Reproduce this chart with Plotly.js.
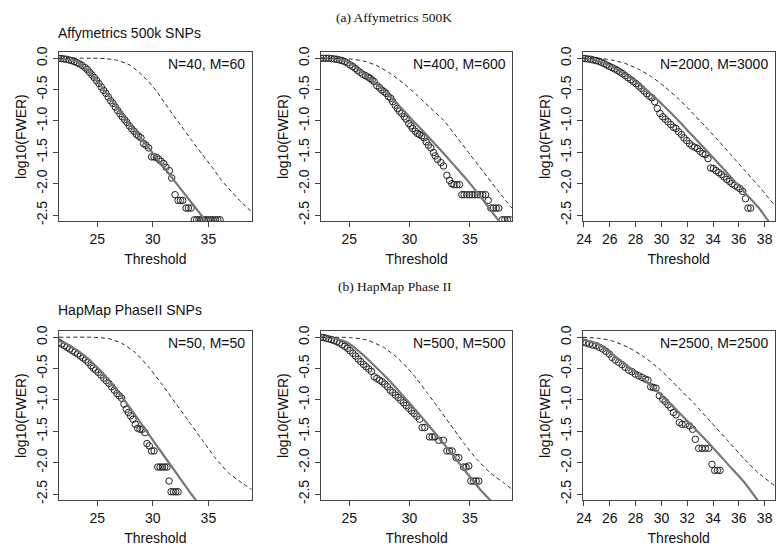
<!DOCTYPE html>
<html><head><meta charset="utf-8">
<script src="https://cdn.plot.ly/plotly-3.0.1.min.js"></script>
<style>html,body{margin:0;padding:0;background:#fff}</style>
</head><body><div id="chart" style="width:776px;height:551px"></div>
<script>
// ---- tick labels ----
const yTickVals = [0, -0.5, -1, -1.5, -2, -2.5];
const yTickText = ["0.0", "-0.5", "-1.0", "-1.5", "-2.0", "-2.5"];
const xTicks5 = [25, 30, 35];
const xTicks2 = [24, 26, 28, 30, 32, 34, 36, 38];

// ---- titles / labels ----
const sectionTitles = ["(a) Affymetrics 500K", "(b) HapMap Phase II"];
const rowTitles = ["Affymetrics 500k SNPs", "HapMap PhaseII SNPs"];
const panelLabels = ["N=40, M=60", "N=400, M=600", "N=2000, M=3000",
                     "N=50, M=50", "N=500, M=500", "N=2500, M=2500"];

// ---- Panel 1: Affymetrics N=40, M=60 ----
const p1_x = [21.49,21.73,21.97,22.21,22.45,22.69,22.93,23.17,23.41,23.65,23.89,24.10,24.31,24.52,24.73,24.94,25.15,25.36,25.57,25.78,25.99,26.20,26.41,26.62,26.83,27.04,27.25,27.46,27.67,27.88,28.09,28.30,28.51,28.72,28.93,29.17,29.38,29.62,29.89,30.11,30.32,30.53,30.74,30.98,31.19,31.49,31.70,32.00,32.27,32.48,32.69,32.99,33.20,33.44,33.74,33.95,34.16,34.37,34.58,34.79,35.00,35.21,35.42,35.63,35.84,36.05];
const p1_y = [0,-0.005,-0.01,-0.016,-0.027,-0.037,-0.053,-0.069,-0.091,-0.117,-0.149,-0.181,-0.224,-0.267,-0.309,-0.357,-0.405,-0.459,-0.512,-0.56,-0.619,-0.677,-0.72,-0.779,-0.832,-0.885,-0.933,-0.981,-1.024,-1.077,-1.125,-1.163,-1.211,-1.243,-1.269,-1.36,-1.387,-1.429,-1.573,-1.573,-1.579,-1.611,-1.643,-1.68,-1.739,-1.792,-1.909,-2.176,-2.267,-2.267,-2.267,-2.389,-2.389,-2.389,-2.576,-2.576,-2.576,-2.576,-2.576,-2.576,-2.576,-2.576,-2.576,-2.576,-2.576,-2.576];
const p1_sx = [21.49,22.99,24.19,25.69,27.19,28.69,30.20,31.70,33.20,34.85];
const p1_sy = [0,-0.043,-0.203,-0.523,-0.885,-1.227,-1.557,-1.899,-2.24,-2.613];
const p1_dx = [21.49,25.0,25.69,26.74,27.94,28.84,29.59,30.35,31.10,31.85,32.60,33.50,34.40,35.30,36.20,37.10,38.00,38.9];
const p1_dy = [0,0,-0.005,-0.03,-0.11,-0.24,-0.37,-0.53,-0.72,-0.91,-1.09,-1.31,-1.52,-1.73,-1.95,-2.13,-2.30,-2.45];

// ---- Panel 2: Affymetrics N=400, M=600 ----
const p2_x = [22.63,22.85,23.07,23.29,23.52,23.74,23.96,24.18,24.40,24.62,24.84,25.06,25.29,25.48,25.67,25.89,26.11,26.34,26.56,26.72,26.89,27.06,27.28,27.50,27.69,27.89,28.05,28.25,28.44,28.60,28.80,28.99,29.16,29.35,29.55,29.71,29.93,30.10,30.26,30.46,30.65,30.82,31.01,31.20,31.37,31.56,31.76,31.98,32.12,32.31,32.59,32.81,33.09,33.31,33.50,33.69,33.92,34.14,34.33,34.52,34.74,34.97,35.19,35.41,35.63,35.85,36.07,36.30,36.52,36.74,36.96,37.18,37.40,37.68,37.90,38.12,38.34];
const p2_y = [0,0,0,0,-0.005,-0.011,-0.016,-0.027,-0.037,-0.053,-0.075,-0.107,-0.133,-0.16,-0.192,-0.224,-0.256,-0.277,-0.299,-0.32,-0.347,-0.373,-0.437,-0.469,-0.507,-0.533,-0.56,-0.613,-0.64,-0.693,-0.747,-0.8,-0.843,-0.88,-0.933,-0.971,-1.04,-1.077,-1.12,-1.163,-1.2,-1.216,-1.237,-1.269,-1.333,-1.387,-1.429,-1.504,-1.557,-1.611,-1.664,-1.717,-1.867,-1.947,-2.0,-2.016,-2.016,-2.016,-2.176,-2.176,-2.176,-2.176,-2.176,-2.176,-2.176,-2.176,-2.176,-2.176,-2.267,-2.389,-2.389,-2.389,-2.389,-2.576,-2.576,-2.576,-2.576];
const p2_sx = [22.63,23.68,24.79,25.89,27.0,28.11,29.21,30.32,31.43,32.53,33.64,34.74,35.80,36.68,37.46];
const p2_sy = [0,-0.005,-0.053,-0.203,-0.373,-0.56,-0.773,-1.003,-1.227,-1.456,-1.696,-1.936,-2.187,-2.411,-2.608];
const p2_dx = [22.63,23.96,25.06,26.17,27.28,28.38,29.49,30.60,31.70,32.81,33.92,35.02,36.13,37.24,38.48];
const p2_dy = [0,0,-0.011,-0.043,-0.117,-0.24,-0.4,-0.587,-0.789,-0.987,-1.259,-1.536,-1.813,-2.091,-2.389];

// ---- Panel 3: Affymetrics N=2000, M=3000 ----
const p3_x = [23.90,24.10,24.31,24.52,24.72,24.93,25.14,25.34,25.55,25.76,25.96,26.17,26.38,26.58,26.79,27.00,27.20,27.41,27.62,27.82,28.03,28.24,28.44,28.65,28.86,29.06,29.27,29.48,29.68,29.89,30.10,30.30,30.51,30.72,30.93,31.13,31.34,31.55,31.75,31.96,32.17,32.37,32.58,32.79,32.99,33.20,33.41,33.61,33.82,34.03,34.23,34.44,34.65,34.85,35.06,35.27,35.47,35.68,35.89,36.09,36.30,36.51,36.71,36.92];
const p3_y = [0,-0.005,-0.011,-0.016,-0.027,-0.037,-0.048,-0.064,-0.085,-0.107,-0.128,-0.149,-0.171,-0.192,-0.219,-0.245,-0.277,-0.309,-0.341,-0.373,-0.405,-0.443,-0.48,-0.523,-0.565,-0.603,-0.629,-0.693,-0.8,-0.88,-0.933,-0.971,-1.013,-1.056,-1.099,-1.12,-1.173,-1.216,-1.269,-1.312,-1.36,-1.397,-1.419,-1.44,-1.483,-1.52,-1.536,-1.6,-1.749,-1.76,-1.792,-1.824,-1.856,-1.893,-1.931,-1.963,-2.0,-2.027,-2.053,-2.08,-2.123,-2.24,-2.389,-2.389];
const p3_sx = [23.90,25.09,26.12,27.15,28.19,29.22,30.25,31.29,32.32,33.35,34.39,35.42,36.45,37.49,38.34];
const p3_sy = [0,-0.043,-0.133,-0.256,-0.4,-0.576,-0.773,-0.987,-1.216,-1.44,-1.669,-1.904,-2.139,-2.373,-2.608];
const p3_dx = [23.90,25.09,26.12,27.15,28.19,29.22,30.25,31.29,32.32,33.35,34.39,35.42,36.45,37.49,38.78];
const p3_dy = [0,0,-0.027,-0.08,-0.171,-0.293,-0.453,-0.64,-0.853,-1.077,-1.307,-1.547,-1.787,-2.027,-2.347];

// ---- Panel 4: HapMap N=50, M=50 ----
const p4_x = [21.55,21.79,22.03,22.27,22.51,22.75,22.99,23.23,23.47,23.71,23.95,24.19,24.43,24.64,24.85,25.09,25.33,25.57,25.81,26.05,26.29,26.53,26.77,26.98,27.19,27.40,27.61,27.79,28.00,28.21,28.42,28.63,28.84,29.05,29.29,29.47,29.68,29.89,30.11,30.44,30.65,30.86,31.07,31.28,31.46,31.64,31.85,32.06,32.27];
const p4_y = [-0.08,-0.107,-0.133,-0.16,-0.187,-0.213,-0.24,-0.267,-0.299,-0.331,-0.363,-0.4,-0.453,-0.491,-0.523,-0.56,-0.603,-0.651,-0.693,-0.736,-0.789,-0.843,-0.896,-0.933,-0.971,-1.067,-1.147,-1.2,-1.253,-1.307,-1.387,-1.451,-1.467,-1.467,-1.52,-1.696,-1.733,-1.813,-1.813,-2.069,-2.069,-2.069,-2.069,-2.069,-2.293,-2.464,-2.464,-2.464,-2.464];
const p4_sx = [21.55,22.69,24.19,25.69,27.19,28.69,30.20,31.70,33.20,33.95];
const p4_sy = [-0.053,-0.149,-0.347,-0.613,-0.944,-1.312,-1.691,-2.064,-2.437,-2.619];
const p4_dx = [21.55,24.49,25.99,27.19,28.39,29.59,30.80,32.0,33.20,34.40,35.60,36.80,38.0,38.9];
const p4_dy = [0,0,-0.021,-0.096,-0.24,-0.469,-0.747,-1.04,-1.333,-1.627,-1.92,-2.16,-2.32,-2.427];

// ---- Panel 5: HapMap N=500, M=500 ----
const p5_x = [22.63,22.85,23.07,23.29,23.52,23.74,23.96,24.18,24.40,24.62,24.84,25.06,25.29,25.51,25.73,25.95,26.17,26.39,26.61,26.83,27.06,27.28,27.50,27.72,27.94,28.16,28.38,28.60,28.83,29.05,29.27,29.49,29.71,29.93,30.15,30.37,30.60,30.82,31.04,31.26,31.65,31.87,32.09,32.42,32.81,33.09,33.31,33.53,33.86,34.08,34.47,34.69,34.91,35.08,35.30,35.52,35.74];
const p5_y = [0,-0.005,-0.016,-0.027,-0.037,-0.053,-0.069,-0.091,-0.117,-0.144,-0.176,-0.213,-0.256,-0.299,-0.347,-0.389,-0.432,-0.469,-0.507,-0.544,-0.629,-0.656,-0.683,-0.709,-0.747,-0.789,-0.843,-0.88,-0.923,-0.96,-1.003,-1.045,-1.088,-1.131,-1.173,-1.216,-1.259,-1.307,-1.44,-1.44,-1.589,-1.589,-1.589,-1.643,-1.643,-1.813,-1.813,-1.813,-1.92,-1.92,-2.069,-2.069,-2.053,-2.293,-2.293,-2.293,-2.293];
const p5_sx = [22.63,23.68,24.79,25.89,27.0,28.11,29.21,30.32,31.43,32.53,33.64,34.74,35.85,36.82];
const p5_sy = [0,-0.016,-0.08,-0.24,-0.437,-0.651,-0.88,-1.12,-1.371,-1.627,-1.893,-2.16,-2.427,-2.624];
const p5_dx = [22.63,25.06,26.45,27.83,28.94,29.77,30.60,31.43,32.26,33.36,34.47,35.58,36.68,37.79,38.48];
const p5_dy = [0,-0.005,-0.043,-0.16,-0.32,-0.48,-0.667,-0.88,-1.093,-1.387,-1.68,-1.947,-2.16,-2.32,-2.421];

// ---- Panel 6: HapMap N=2500, M=2500 ----
const p6_x = [23.90,24.16,24.41,24.67,24.93,25.19,25.45,25.71,25.96,26.17,26.43,26.69,26.95,27.20,27.46,27.72,27.98,28.24,28.50,28.75,28.96,29.17,29.37,29.58,29.84,30.10,30.30,30.51,30.72,30.93,31.13,31.39,31.60,31.86,32.17,32.42,32.63,32.89,33.15,33.41,33.66,33.92,34.13,34.34,34.54];
const p6_y = [-0.08,-0.091,-0.107,-0.123,-0.133,-0.16,-0.187,-0.224,-0.267,-0.32,-0.363,-0.4,-0.437,-0.48,-0.523,-0.549,-0.587,-0.613,-0.64,-0.667,-0.683,-0.789,-0.8,-0.811,-0.933,-0.987,-1.024,-1.077,-1.12,-1.2,-1.237,-1.36,-1.387,-1.387,-1.413,-1.467,-1.627,-1.771,-1.771,-1.771,-1.771,-2.027,-2.123,-2.123,-2.123];
const p6_sx = [23.90,25.09,26.12,27.41,28.70,29.99,31.29,32.58,33.87,35.16,36.45,37.49];
const p6_sy = [-0.027,-0.107,-0.256,-0.469,-0.683,-0.923,-1.184,-1.456,-1.733,-2.027,-2.32,-2.608];
const p6_dx = [23.90,25.09,26.12,27.41,28.70,29.99,31.29,32.58,33.87,35.16,36.45,37.49,38.78];
const p6_dy = [0,-0.016,-0.053,-0.16,-0.32,-0.533,-0.8,-1.067,-1.36,-1.653,-1.947,-2.16,-2.368];

const panels = [
  {x:p1_x,y:p1_y,sx:p1_sx,sy:p1_sy,dx:p1_dx,dy:p1_dy,xr:[21.55,38.9],xt:xTicks5},
  {x:p2_x,y:p2_y,sx:p2_sx,sy:p2_sy,dx:p2_dx,dy:p2_dy,xr:[22.63,38.52],xt:xTicks5},
  {x:p3_x,y:p3_y,sx:p3_sx,sy:p3_sy,dx:p3_dx,dy:p3_dy,xr:[23.9,38.78],xt:xTicks2},
  {x:p4_x,y:p4_y,sx:p4_sx,sy:p4_sy,dx:p4_dx,dy:p4_dy,xr:[21.55,38.9],xt:xTicks5},
  {x:p5_x,y:p5_y,sx:p5_sx,sy:p5_sy,dx:p5_dx,dy:p5_dy,xr:[22.63,38.52],xt:xTicks5},
  {x:p6_x,y:p6_y,sx:p6_sx,sy:p6_sy,dx:p6_dx,dy:p6_dy,xr:[23.9,38.78],xt:xTicks2}
];

const W = 776, H = 551;
const colPx = [[59,251.7],[320.8,512.3],[582.7,774.7]];
const rowPx = [[52,221.3],[331,500.3]];
const FONT = "Liberation Sans, Arial, sans-serif";
const SERIF = "Liberation Serif, Times New Roman, serif";
const axisCol = "#444";

const traces = [];
const layout = {
  width: W, height: H, margin: {l:0,r:0,t:0,b:0},
  paper_bgcolor: "#fff", plot_bgcolor: "#fff", showlegend: false,
  font: {family: FONT, size: 14, color: "#111"},
  annotations: [], shapes: []
};

panels.forEach((p, i) => {
  const n = i + 1;
  const xa = n === 1 ? "x" : "x" + n, ya = n === 1 ? "y" : "y" + n;
  const col = i % 3, row = Math.floor(i / 3);
  traces.push({x:p.x, y:p.y, xaxis:xa, yaxis:ya, type:"scatter", mode:"markers",
    marker:{symbol:"circle-open", size:6.5, color:"#222", line:{width:1, color:"#222"}}, hoverinfo:"skip"});
  traces.push({x:p.sx, y:p.sy, xaxis:xa, yaxis:ya, type:"scatter", mode:"lines",
    line:{color:"#777", width:2.2, shape:"spline", smoothing:0.6}, hoverinfo:"skip"});
  traces.push({x:p.dx, y:p.dy, xaxis:xa, yaxis:ya, type:"scatter", mode:"lines",
    line:{color:"#222", width:1, dash:"4px,3px", shape:"spline", smoothing:0.6}, hoverinfo:"skip"});
  const xd = [colPx[col][0]/W, colPx[col][1]/W];
  const yd = [1 - rowPx[row][1]/H, 1 - rowPx[row][0]/H];
  layout["xaxis" + (n === 1 ? "" : n)] = {
    domain: xd, anchor: ya, range: p.xr, tickvals: p.xt, ticktext: p.xt.map(String),
    showline: true, mirror: true, linecolor: axisCol, linewidth: 1,
    ticks: "outside", ticklen: 5, tickcolor: axisCol, showgrid: false, zeroline: false,
    tickfont: {family: FONT, size: 14, color: "#111"},
    title: {text: "Threshold", font: {family: FONT, size: 14, color: "#111"}, standoff: 8}
  };
  layout["yaxis" + (n === 1 ? "" : n)] = {
    domain: yd, anchor: xa, range: [-2.6, 0.1], tickvals: yTickVals, ticktext: yTickText,
    tickangle: -90, showline: true, mirror: true, linecolor: axisCol, linewidth: 1,
    ticks: "outside", ticklen: 5, tickcolor: axisCol, showgrid: false, zeroline: false,
    tickfont: {family: FONT, size: 14, color: "#111"},
    title: {text: "log10(FWER)", font: {family: FONT, size: 14, color: "#111"}, standoff: 4}
  };
  layout.annotations.push({xref: xa + " domain", yref: ya + " domain", x: 0.975, y: 0.93,
    xanchor: "right", yanchor: "middle", text: panelLabels[i], showarrow: false,
    font: {family: FONT, size: 14, color: "#111"}});
});

layout.annotations.push({xref:"paper", yref:"paper", x:394/W, y:1-17/H, xanchor:"center", yanchor:"middle",
  text: sectionTitles[0], showarrow:false, font:{family:SERIF, size:13.5, color:"#111"}});
layout.annotations.push({xref:"paper", yref:"paper", x:395/W, y:1-286/H, xanchor:"center", yanchor:"middle",
  text: sectionTitles[1], showarrow:false, font:{family:SERIF, size:13.5, color:"#111"}});
layout.annotations.push({xref:"paper", yref:"paper", x:56/W, y:1-33/H, xanchor:"left", yanchor:"middle",
  text: rowTitles[0], showarrow:false, font:{family:FONT, size:14, color:"#111"}});
layout.annotations.push({xref:"paper", yref:"paper", x:56/W, y:1-310/H, xanchor:"left", yanchor:"middle",
  text: rowTitles[1], showarrow:false, font:{family:FONT, size:14, color:"#111"}});

Plotly.newPlot("chart", traces, layout, {staticPlot: true, displayModeBar: false});
</script></body></html>
